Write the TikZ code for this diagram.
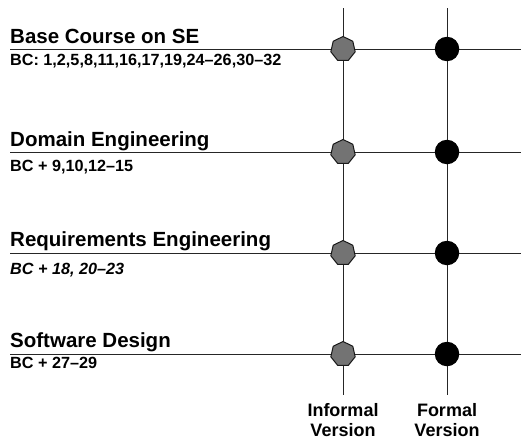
\documentclass[tikz,border=0pt]{standalone}
\usepackage{fontspec}
\setmainfont{Liberation Sans}
\usetikzlibrary{shapes.geometric}
\begin{document}
\begin{tikzpicture}[x=1pt,y=-1pt,
  rule/.style={line width=0.9pt,black!85},
  title/.style={anchor=base west,inner sep=0pt,font=\fontsize{20.5}{23}\selectfont\bfseries},
  sub/.style={anchor=base west,inner sep=0pt,font=\fontsize{16.2}{19}\selectfont\bfseries},
  colhead/.style={anchor=base,inner sep=0pt,font=\fontsize{18}{21}\selectfont\bfseries},
  informal/.style={regular polygon,regular polygon sides=7,minimum size=25pt,inner sep=0pt,fill=black!55,draw=black!90,line width=1pt},
  formal/.style={circle,minimum size=24.5pt,inner sep=0pt,fill=black}]
\useasboundingbox (0,0) rectangle (521,439);
% column coordinates
\coordinate (itop) at (343,8);
\coordinate (ibot) at (343,395);
\coordinate (ftop) at (447,8);
\coordinate (fbot) at (447,395);
\draw[rule] (itop) -- (ibot);
\draw[rule] (ftop) -- (fbot);
% rows
\foreach \n/\y in {1/49,2/152,3/253,4/354}{
  \coordinate (l\n) at (10,\y);
  \coordinate (r\n) at (521,\y);
  \draw[rule] (l\n) -- (r\n);
  \node[informal] (i\n) at (343,\y) {};
  \node[formal] (f\n) at (447,\y) {};
}
\node[title] (t1) at (10,43) {Base Course on SE};
\node[sub] (s1) at (10,65) {BC: 1,2,5,8,11,16,17,19,24--26,30--32};
\node[title] (t2) at (10,146) {Domain Engineering};
\node[sub] (s2) at (10,171) {BC + 9,10,12--15};
\node[title] (t3) at (10,246) {Requirements Engineering};
\node[sub,font=\fontsize{16.2}{19}\selectfont\bfseries\itshape] (s3) at (10,274) {BC + 18, 20--23};
\node[title] (t4) at (10,347) {Software Design};
\node[sub] (s4) at (10,368) {BC + 27--29};
\node[colhead] (ia) at (343,416) {Informal};
\node[colhead] (ib) at (343,436) {Version};
\node[colhead] (fa) at (447,416) {Formal};
\node[colhead] (fb) at (447,436) {Version};
\end{tikzpicture}
\end{document}
